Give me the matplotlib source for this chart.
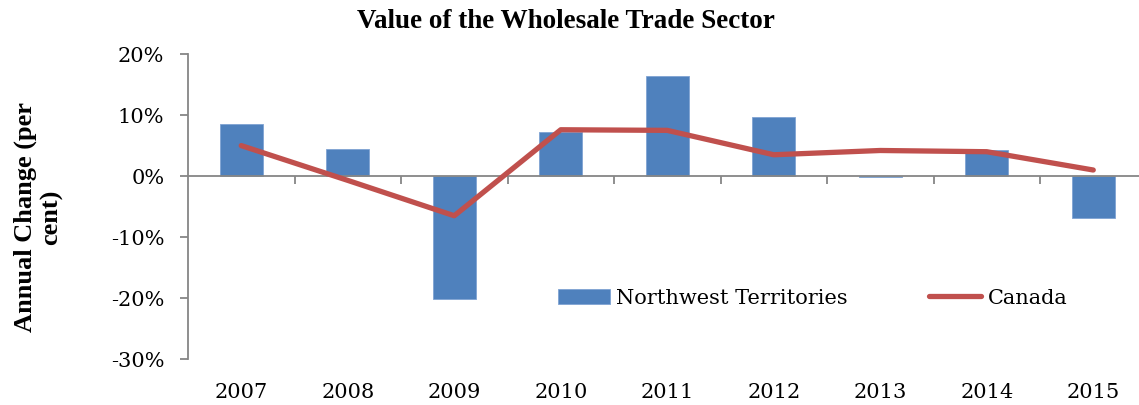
import numpy as np
import matplotlib
matplotlib.use("Agg")
import matplotlib.pyplot as plt

# values (annual change, per cent)
years = ["2007", "2008", "2009", "2010", "2011", "2012", "2013", "2014", "2015"]
nwt = [8.4, 4.3, -20.2, 7.1, 16.3, 9.6, -0.3, 4.2, -7.0]
canada = [4.9, -0.8, -6.6, 7.5, 7.4, 3.4, 4.1, 3.9, 0.9]
yticks = [-30, -20, -10, 0, 10, 20]

W, H = 1139, 406
tick_font = "DejaVu Serif"
bold_font = "Liberation Serif"
grey = "#868686"

fig = plt.figure(figsize=(W / 100, H / 100), dpi=100)
ax = fig.add_axes([188 / W, (H - 359.5) / H, 958.5 / W, 305 / H])

x = np.arange(len(years))
bars = ax.bar(x, nwt, width=0.4, color="#4F81BD", edgecolor="#7FA3D3", linewidth=0.6,
              label="Northwest Territories", zorder=2)
line, = ax.plot(x, canada, color="#C0504D", lw=3.8, solid_capstyle="round",
                label="Canada", zorder=3)

ax.set_xlim(-0.5, len(years) - 0.5)
ax.set_ylim(-30, 20)

for s in ["top", "right"]:
    ax.spines[s].set_visible(False)
ax.spines["left"].set_color(grey)
ax.spines["bottom"].set_color(grey)
ax.spines["left"].set_linewidth(1.3)
ax.spines["bottom"].set_linewidth(1.3)
ax.spines["bottom"].set_position(("data", 0))

# y axis
ax.set_yticks(yticks)
ax.set_yticklabels(["%d%%" % v for v in yticks], fontfamily=tick_font, fontsize=15)
ax.tick_params(axis="y", direction="out", length=6, width=1.3, color=grey, pad=11)

# x axis: ticks at category boundaries, year labels at the bottom
ax.set_xticks(x[:-1] + 0.5)
ax.set_xticklabels([])
ax.tick_params(axis="x", direction="out", length=6, width=1.3, color=grey)
for i, yr in enumerate(years):
    ax.text(i, -0.107, yr, transform=ax.get_xaxis_transform(), ha="center", va="center",
            fontfamily=tick_font, fontsize=15)

fig.text(566 / W, 1 - 21 / H, "Value of the Wholesale Trade Sector", ha="center", va="center",
         fontfamily=bold_font, fontweight="bold", fontsize=19.5)
fig.text(38 / W, 1 - 217 / H, "Annual Change (per\ncent)", ha="center", va="center",
         rotation=90, multialignment="center", linespacing=1.15,
         fontfamily=bold_font, fontweight="bold", fontsize=19)

leg = fig.legend([bars, line], ["Northwest Territories", "Canada"],
                 loc="center left", bbox_to_anchor=(558 / W, 1 - 299 / H), ncol=2,
                 frameon=False, borderpad=0, borderaxespad=0,
                 handlelength=2.5, handletextpad=0.3, columnspacing=3.9,
                 prop={"family": tick_font, "size": 15})

fig.savefig("out.png", dpi=100)
